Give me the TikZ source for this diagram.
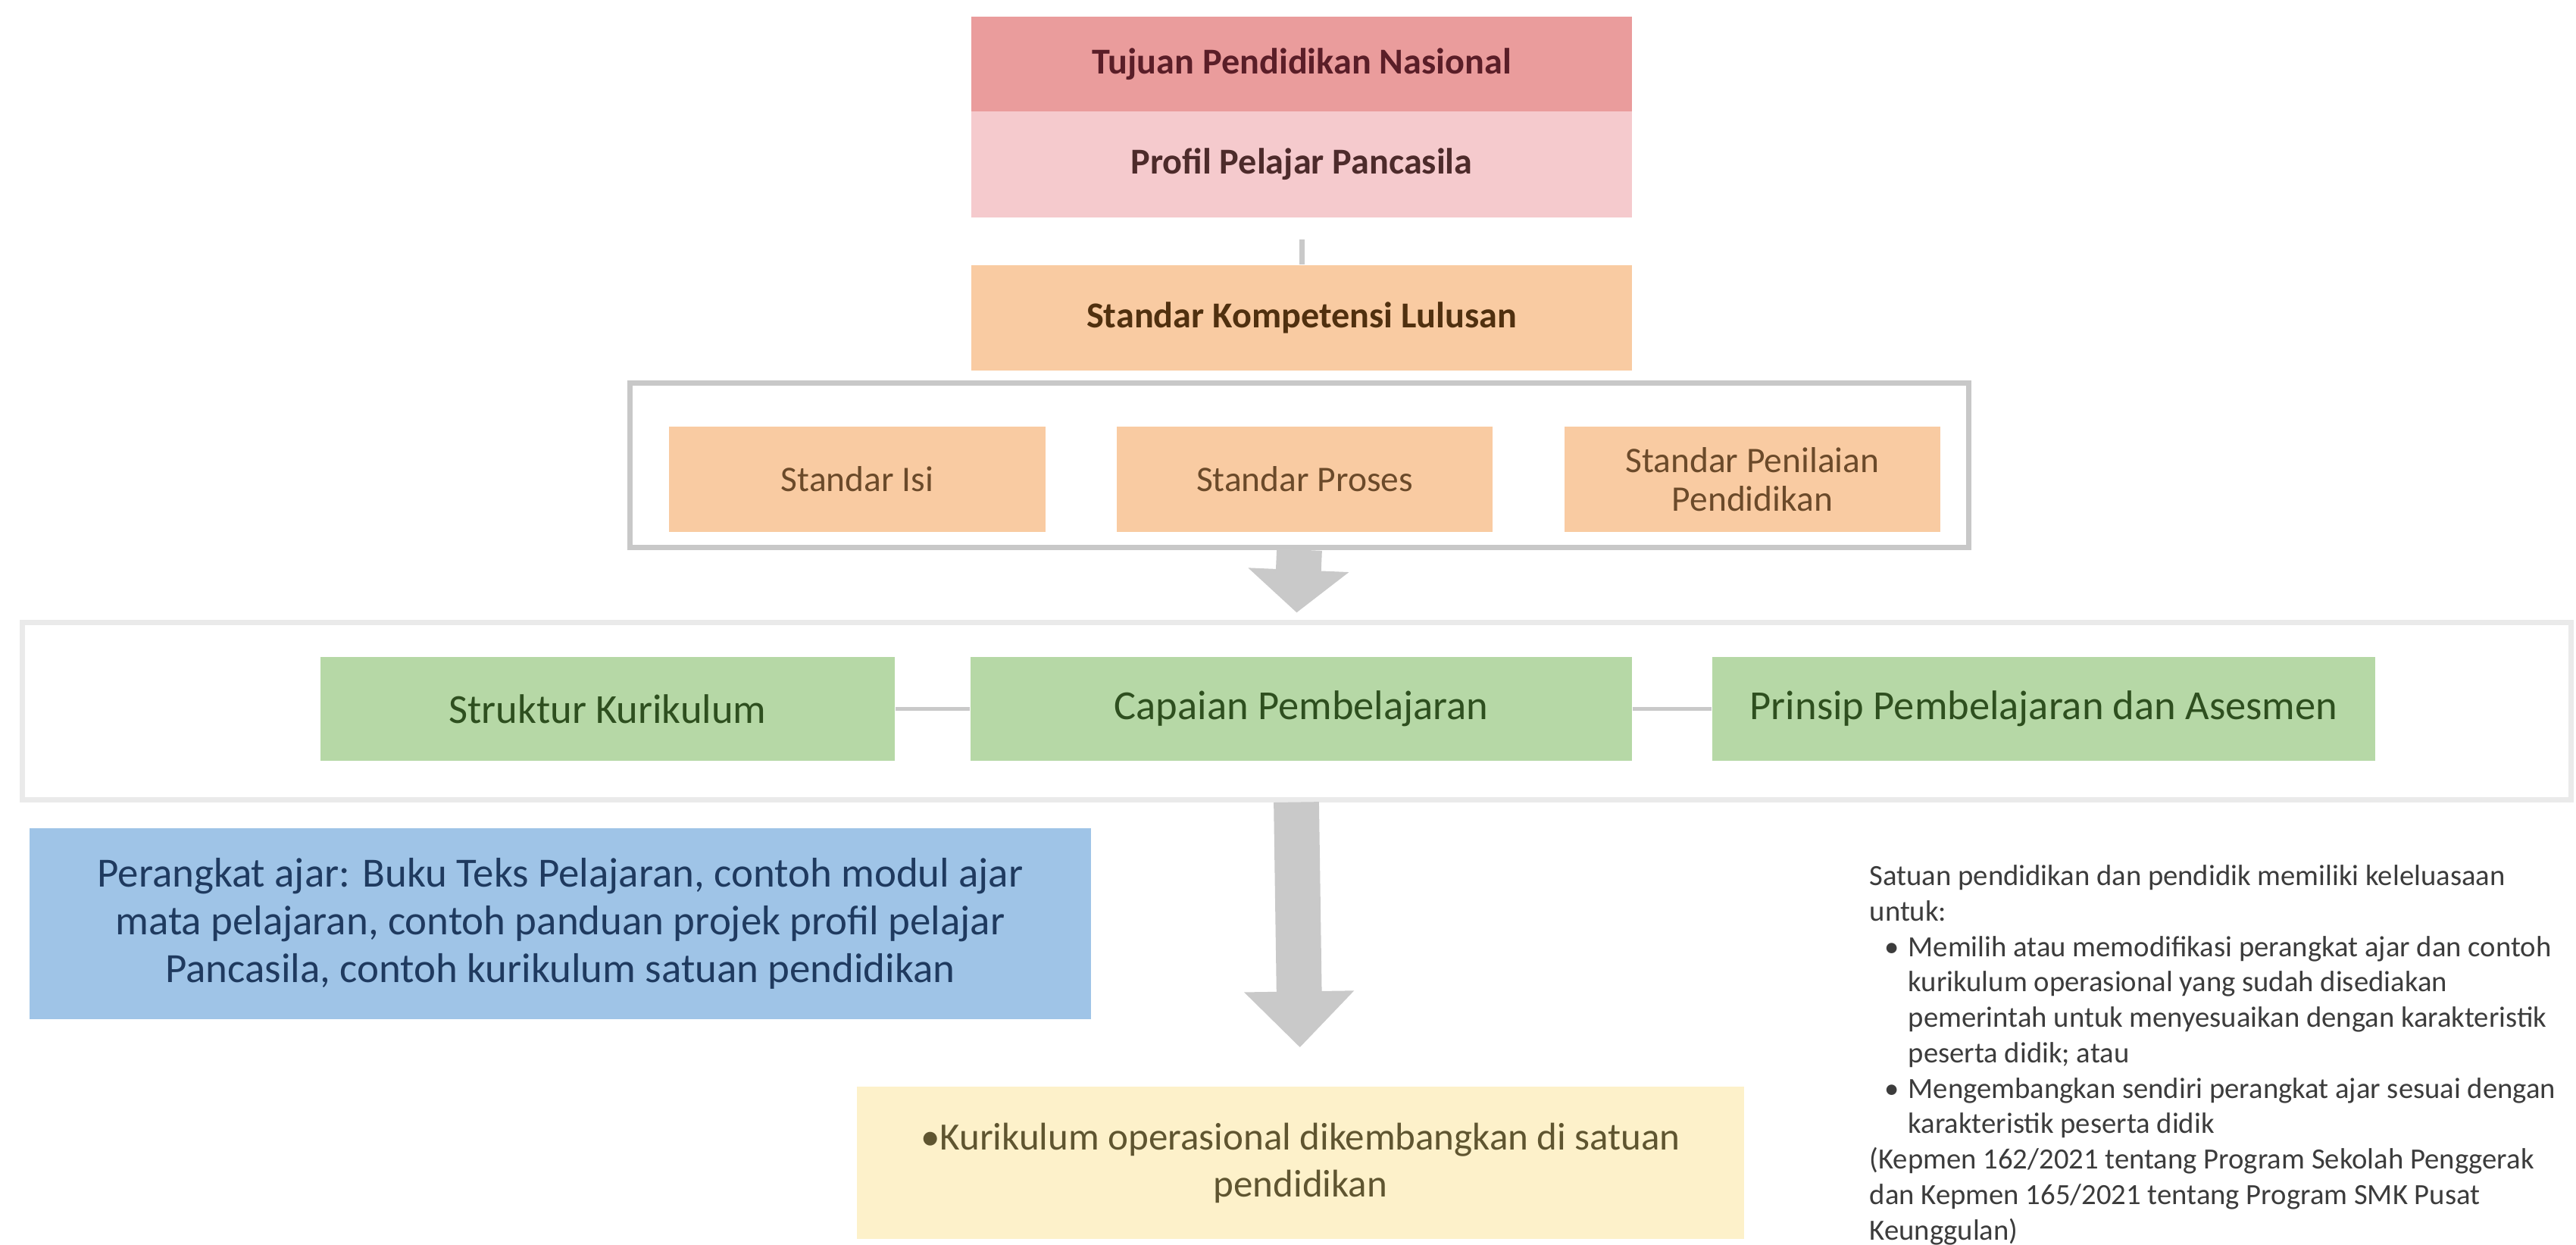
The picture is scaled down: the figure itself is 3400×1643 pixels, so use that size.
\documentclass[tikz,border=0pt]{standalone}
\usepackage{fontspec}
\setmainfont{Carlito}
\usetikzlibrary{arrows.meta}
\definecolor{pinkA}{HTML}{EA9C9C}
\definecolor{pinkB}{HTML}{F5CACD}
\definecolor{orangeF}{HTML}{F9CBA2}
\definecolor{greenF}{HTML}{B6D8A6}
\definecolor{blueF}{HTML}{9FC4E7}
\definecolor{yellowF}{HTML}{FDF1CA}
\definecolor{arrowG}{HTML}{C9C9C9}
\definecolor{contA}{HTML}{C8C8C8}
\definecolor{contB}{HTML}{EAEAEA}
\definecolor{txtPinkA}{HTML}{5A1E28}
\definecolor{txtPinkB}{HTML}{4D2B2B}
\definecolor{txtOrange}{HTML}{50300F}
\definecolor{txtOrangeB}{HTML}{6B4A2A}
\definecolor{txtGreen}{HTML}{2E4F1F}
\definecolor{txtBlue}{HTML}{1F3A5F}
\definecolor{txtYellow}{HTML}{5F5530}
\definecolor{txtGray}{HTML}{3C3C3C}
\tikzset{
  flat/.style={inner sep=0pt, align=center},
  topbox/.style={flat, font=\bfseries\fontsize{13.7}{16}\selectfont, minimum width=8.72cm},
  stdbox/.style={flat, fill=orangeF, text=txtOrangeB, font=\fontsize{13.5}{14.5}\selectfont, minimum width=4.96cm, minimum height=1.39cm},
  grnbox/.style={flat, fill=greenF, text=txtGreen, font=\fontsize{15.5}{18}\selectfont, minimum height=1.37cm},
  blockarrow/.style={draw=arrowG, line width=#1},
}
\begin{document}
\begin{tikzpicture}[x=0.01cm, y=-0.01cm]
\useasboundingbox[fill=white] (0,0) rectangle (3400,1643);

% top boxes
\node[topbox, fill=pinkA, text=txtPinkA, minimum height=1.25cm] (tujuan) at (1718,84.5) {Tujuan Pendidikan Nasional};
\node[topbox, fill=pinkB, text=txtPinkB, minimum height=1.40cm] (profil) at (1718,217) {Profil Pelajar Pancasila};
\node[topbox, fill=orangeF, text=txtOrange, minimum height=1.39cm] (skl) at (1718,419.5) {Standar Kompetensi Lulusan};
\coordinate (tick) at (1718,316);
\draw[arrowG, line width=2pt] (tick) -- (skl.north);

% container of standards
\node[flat, draw=contA, line width=2pt, minimum width=17.66cm, minimum height=2.16cm] (std) at (1715,614) {};
\node[stdbox] (isi) at (1131.5,632.5) {Standar Isi};
\node[stdbox] (proses) at (1722,632.5) {Standar Proses};
\node[stdbox] (penilaian) at (2313,632.5) {Standar Penilaian\\Pendidikan};

% second container
\node[flat, draw=contB, line width=2pt, minimum width=33.62cm, minimum height=2.33cm] (mid) at (1711,938.5) {};
\node[grnbox, minimum width=7.58cm] (struktur) at (802,935.5) {Struktur Kurikulum};
\node[grnbox, minimum width=8.73cm] (capaian) at (1717.5,935.5) {Capaian Pembelajaran};
\node[grnbox, minimum width=8.75cm] (prinsip) at (2697.5,935.5) {Prinsip Pembelajaran dan Asesmen};
\draw[arrowG, line width=1.5pt] (struktur.east) -- (capaian.west);
\draw[arrowG, line width=1.5pt] (capaian.east) -- (prinsip.west);

% block arrow between containers
\draw[blockarrow=17pt, -{Triangle[width=37pt,length=16pt]}, shorten >=0.1cm] (std.south) -- (mid.north);

% blue box
\node[flat, fill=blueF, text=txtBlue, font=\fontsize{15.6}{18}\selectfont, minimum width=14.01cm, minimum height=2.52cm] (perangkat) at (739.5,1219)
  {Perangkat ajar: Buku Teks Pelajaran, contoh modul ajar\\mata pelajaran, contoh panduan projek profil pelajar\\Pancasila, contoh kurikulum satuan pendidikan};

% yellow box
\node[flat, fill=yellowF, text=txtYellow, font=\fontsize{14.5}{17.6}\selectfont, minimum width=11.71cm, minimum height=2.01cm] (kurop) at (1716.5,1534.5)
  {•Kurikulum operasional dikembangkan di satuan\\pendidikan};

% big arrow
\draw[blockarrow=17pt, -{Triangle[width=40pt,length=21pt]}, shorten >=0.51cm] (mid.south) -- (kurop.north);

% right text
\node[inner sep=0pt, anchor=north west, align=left, text=txtGray, font=\fontsize{11}{13.3}\selectfont] (catatan) at (2467,1141)
  {Satuan pendidikan dan pendidik memiliki keleluasaan\\
   untuk:\\
   \hspace*{5.5pt}\makebox[9pt][l]{•}Memilih atau memodifikasi perangkat ajar dan contoh\\
   \hspace*{14.5pt}kurikulum operasional yang sudah disediakan\\
   \hspace*{14.5pt}pemerintah untuk menyesuaikan dengan karakteristik\\
   \hspace*{14.5pt}peserta didik; atau\\
   \hspace*{5.5pt}\makebox[9pt][l]{•}Mengembangkan sendiri perangkat ajar sesuai dengan\\
   \hspace*{14.5pt}karakteristik peserta didik\\
   (Kepmen 162/2021 tentang Program Sekolah Penggerak\\
   dan Kepmen 165/2021 tentang Program SMK Pusat\\
   Keunggulan)};
\end{tikzpicture}
\end{document}
